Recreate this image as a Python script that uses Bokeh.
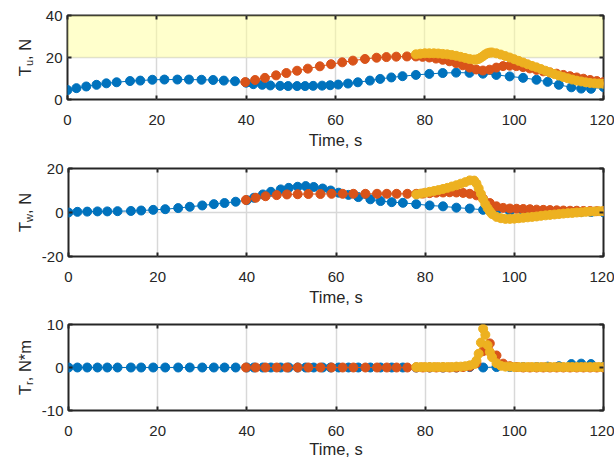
import math
from bokeh.plotting import figure
from bokeh.models import Range1d, LinearAxis, FixedTicker, BoxAnnotation
from bokeh.core.properties import value
from bokeh.layouts import column, row
from bokeh.embed import file_html
from bokeh.resources import INLINE

# ---------------- data ----------------
x_ticks = [0, 20, 40, 60, 80, 100, 120]
y_ticks_u = [0, 20, 40]
y_ticks_w = [-20, 0, 20]
y_ticks_r = [-10, 0, 10]
x_label = "Time, s"

t_blue = [0, 2, 4.2, 6.5, 8.7, 11, 14, 16.3, 19, 21.7, 24.6, 27.2, 30, 32.6, 35, 37.5,
          40, 41.6, 43.6, 45.4, 47.6, 49.4, 51.4, 53.2, 55, 57, 58.8, 60.6, 62.8, 65,
          67.7, 70, 72.5, 75, 78, 81, 84, 87, 90, 93, 96, 99, 102, 105, 107.5, 110,
          112.8, 115, 117.2, 120]
tu_blue = [4.5, 5.4, 6.2, 7.0, 7.7, 8.2, 8.8, 9.0, 9.4, 9.5, 9.5, 9.5, 9.4, 9.3, 9.0, 8.7,
           8.0, 7.3, 7.0, 6.7, 6.5, 6.4, 6.4, 6.4, 6.5, 6.6, 6.8, 7.1, 7.6, 8.2,
           9.0, 9.8, 10.5, 11.1, 11.7, 12.2, 12.6, 12.8, 12.7, 12.3, 11.7, 11.0, 10.3, 9.4, 8.4, 7.0,
           5.8, 5.2, 5.1, 5.9]
tw_blue = [0.0, 0.3, 0.4, 0.5, 0.5, 0.6, 0.7, 0.9, 1.2, 1.5, 2.0, 2.6, 3.2, 3.8, 4.3, 4.9,
           5.6, 6.7, 8.2, 9.4, 10.5, 11.2, 11.7, 12.0, 11.6, 10.9, 10.0, 9.0, 8.0, 7.0,
           6.0, 5.2, 4.7, 4.4, 3.8, 3.2, 2.8, 2.2, 1.8, 1.2, 0.8, 0.6, 0.5, 0.4, 0.4, 0.3,
           0.3, 0.2, 0.2, 0.1]
tr_blue = [0.0, 0.0, 0.0, 0.0, 0.0, 0.0, 0.0, 0.0, 0.0, 0.0, 0.0, 0.0, 0.0, 0.0, 0.0, 0.0,
           0.0, 0.0, 0.0, 0.0, 0.0, 0.0, 0.0, 0.0, 0.0, 0.0, 0.0, 0.0, 0.0, 0.0,
           0.0, 0.0, 0.0, 0.0, 0.0, 0.0, 0.0, 0.0, 0.1, 0.0, 0.1, 0.1, 0.1, 0.1, 0.2, 0.3,
           0.8, 0.9, 0.8, 0.2]

t_orange = [39.8, 42, 44.2, 46.7, 49, 51.4, 53.8, 56.5, 59, 61.5, 63.9, 66.6, 69.2, 71.4, 73.6, 76, 78,
            79.5, 81, 82.5, 84, 85.5, 87, 88.5, 90, 91.5, 93, 94.5, 96, 97.5, 99, 100.5, 102,
            103.5, 105, 106.5, 108, 109.5, 111, 112.5, 114, 115.5, 117, 118.5, 120]
tu_orange = [8.3, 9.3, 10.3, 11.5, 12.6, 13.7, 14.7, 15.8, 16.8, 17.7, 18.5, 19.3, 19.9, 20.2, 20.4, 20.5, 20.5,
             20.3, 20.0, 19.5, 18.9, 18.2, 17.3, 16.3, 15.2, 14.3, 13.8, 14.2, 15.2, 15.9, 16.1, 15.9, 15.4,
             14.8, 14.1, 13.4, 12.9, 12.3, 11.7, 11.1, 10.5, 9.9, 9.3, 8.8, 8.3]
tw_orange = [5.7, 6.7, 7.4, 7.9, 8.2, 8.3, 8.4, 8.4, 8.5, 8.5, 8.5, 8.5, 8.5, 8.5, 8.5, 8.5, 8.5,
             8.6, 8.8, 9.0, 9.1, 9.2, 9.1, 8.9, 8.5, 7.8, 6.3, 4.3, 2.8, 2.1, 1.8, 1.7, 1.6,
             1.5, 1.3, 1.2, 1.1, 1.0, 0.9, 0.8, 0.8, 0.7, 0.7, 0.6, 0.6]
tr_orange = [0.0, 0.0, 0.0, 0.0, 0.0, 0.0, 0.0, 0.0, 0.0, 0.0, 0.0, 0.0, 0.0, 0.0, 0.0, 0.0, 0.0,
             0.0, 0.0, 0.0, 0.0, 0.0, 0.0, 0.1, 0.2, 1.0, 3.8, 5.6, 2.8, 0.9, 0.3, 0.1, 0.0,
             0.0, 0.0, 0.0, 0.0, 0.0, 0.0, 0.0, 0.0, 0.0, 0.0, 0.0, 0.0]

t_yellow = [78, 79, 80, 81, 82, 83, 84, 85, 86, 87, 88, 89, 90, 91,
            91.5, 92, 92.5, 93, 93.5, 94, 94.5, 95,
            96, 97, 98, 99, 100, 101, 102, 103, 104, 105, 106, 107, 108, 109, 110,
            111, 112, 113, 114, 115, 116, 117, 118, 119, 120]
tu_yellow = [21.5, 21.8, 22.0, 22.0, 22.0, 21.9, 21.7, 21.5, 21.2, 20.8, 20.3, 19.8, 19.3, 19.0,
             19.0, 19.3, 19.9, 20.6, 21.4, 22.0, 22.3, 22.4,
             22.0, 21.4, 20.7, 20.0, 19.2, 18.4, 17.6, 16.8, 16.0, 15.3, 14.5, 13.7, 12.9, 12.1, 11.4,
             10.7, 10.1, 9.5, 9.0, 8.6, 8.2, 7.9, 7.7, 7.6, 7.5]
tw_yellow = [8.2, 8.6, 9.0, 9.4, 9.8, 10.2, 10.7, 11.2, 11.8, 12.4, 13.1, 13.8, 14.6, 14.5,
             13.2, 11.0, 8.5, 6.0, 3.8, 2.0, 0.5, -0.7,
             -2.0, -2.6, -2.9, -2.9, -2.8, -2.6, -2.4, -2.2, -2.0, -1.8, -1.5, -1.3, -1.1, -0.9, -0.7,
             -0.5, -0.3, -0.2, 0.0, 0.1, 0.3, 0.4, 0.5, 0.6, 0.7]
tr_yellow = [0.1, 0.1, 0.1, 0.1, 0.1, 0.1, 0.1, 0.1, 0.1, 0.2, 0.2, 0.3, 0.5, 0.8,
             1.6, 3.2, 5.8, 9.0, 7.6, 5.2, 3.6, 2.4,
             1.0, 0.4, 0.2, 0.2, 0.1, 0.1, 0.1, 0.1, 0.1, 0.1, 0.1, 0.1, 0.1, 0.1, 0.1,
             0.1, 0.1, 0.1, 0.1, 0.1, 0.1, 0.1, 0.1, 0.1, 0.1]

# ---------------- style ----------------
BLUE = "#0072BD"
ORANGE = "#D95319"
YELLOW = "#EDB120"
FONT = "Liberation Sans"
TXT = "#262626"
GRID = "#d8d8d8"
TICK_FS = "15px"
LAB_FS = "16.5px"
LABEL_W = 38
PANEL_W = 576

EM = {"T": 0.611, "u": 0.556, "w": 0.722, "r": 0.333, ",": 0.278, " ": 0.278,
      "N": 0.722, "*": 0.389, "m": 0.833}


def text_w(s, fs):
    return sum(EM.get(c, 0.556) for c in s) * fs


def style_axis(ax, ticks, show_labels=True):
    ax.ticker = FixedTicker(ticks=ticks)
    ax.axis_line_color = None
    ax.major_tick_in = 4
    ax.major_tick_out = 0
    ax.major_tick_line_color = TXT
    ax.major_tick_line_width = 2
    ax.minor_tick_line_color = None
    if show_labels:
        ax.major_label_text_font = FONT
        ax.major_label_text_font_size = TICK_FS
        ax.major_label_text_color = TXT
        ax.major_label_overrides = {t: ("-%d" % -t if t < 0 else "%d" % t) for t in ticks}
    else:
        ax.major_label_overrides = {t: "" for t in ticks}
        ax.major_label_text_font_size = "0px"
        ax.major_label_standoff = 0


def make_label(height, b_top, frame_h, b_bottom, sub, rest):
    # frame of this narrow figure is aligned with the neighbouring panel frame
    lf = figure(width=LABEL_W, height=height, x_range=Range1d(0, LABEL_W), y_range=Range1d(0, frame_h),
                output_backend="svg", toolbar_location=None, title=None,
                x_axis_location=None, y_axis_location=None,
                min_border_left=0, min_border_right=0, min_border_top=b_top, min_border_bottom=b_bottom)
    lf.outline_line_color = None
    lf.xgrid.visible = False
    lf.ygrid.visible = False
    F = 16.5
    S = 11.0
    total = text_w("T", F) + text_w(sub, S) + text_w(rest, F)
    y0 = frame_h / 2.0 - total / 2.0
    y1 = y0 + text_w("T", F)
    y2 = y1 + text_w(sub, S)
    common = dict(angle=math.pi / 2, text_font=value(FONT), text_color=TXT,
                  text_baseline="alphabetic", text_align="left")
    lf.text(x=[24], y=[y0], text=["T"], text_font_size=value("%gpx" % F), **common)
    lf.text(x=[28], y=[y1], text=[sub], text_font_size=value("%gpx" % S), **common)
    lf.text(x=[24], y=[y2], text=[rest], text_font_size=value("%gpx" % F), **common)
    return lf


def make_panel(height, b_top, frame_h, b_bottom, yr, yticks, series, band=None, label_standoff=3):
    p = figure(width=PANEL_W, height=height, x_range=Range1d(0, 120), y_range=Range1d(*yr),
               output_backend="svg", toolbar_location=None, title=None,
               min_border_left=67 - LABEL_W, min_border_right=11,
               min_border_top=b_top, min_border_bottom=b_bottom)
    p.outline_line_color = TXT
    p.outline_line_width = 2

    style_axis(p.xaxis[0], x_ticks)
    p.xaxis[0].major_label_standoff = 15
    p.xaxis[0].axis_label = x_label
    p.xaxis[0].axis_label_text_font = FONT
    p.xaxis[0].axis_label_text_font_size = LAB_FS
    p.xaxis[0].axis_label_text_font_style = "normal"
    p.xaxis[0].axis_label_text_color = TXT
    p.xaxis[0].axis_label_standoff = label_standoff

    style_axis(p.yaxis[0], yticks)
    p.yaxis[0].major_label_standoff = 5

    top_ax = LinearAxis()
    style_axis(top_ax, x_ticks, show_labels=False)
    p.add_layout(top_ax, "above")
    right_ax = LinearAxis()
    style_axis(right_ax, yticks, show_labels=False)
    p.add_layout(right_ax, "right")

    p.xgrid.ticker = FixedTicker(ticks=x_ticks)
    p.ygrid.ticker = FixedTicker(ticks=yticks)
    for g in (p.xgrid, p.ygrid):
        g.grid_line_color = GRID
        g.grid_line_width = 1.5

    if band is not None:
        p.add_layout(BoxAnnotation(bottom=band[0], top=band[1], fill_color="#FFFF99",
                                   fill_alpha=0.5, line_color=None, level="underlay"))

    for t, v, c in series:
        p.line(t, v, line_color=c, line_width=1)
        p.scatter(t, v, marker="circle", size=9, fill_color=c, line_color=c)
    return p


p1 = make_panel(153, 15, 84, 54, (0, 40), y_ticks_u,
                [(t_blue, tu_blue, BLUE), (t_orange, tu_orange, ORANGE), (t_yellow, tu_yellow, YELLOW)],
                band=(20, 40))
l1 = make_label(153, 15, 84, 54, "u", ", N")
p2 = make_panel(157, 15, 88, 54, (-20, 20), y_ticks_w,
                [(t_blue, tw_blue, BLUE), (t_orange, tw_orange, ORANGE), (t_yellow, tw_yellow, YELLOW)])
l2 = make_label(157, 15, 88, 54, "w", ", N")
p3 = make_panel(152, 14, 86, 52, (-10, 10), y_ticks_r,
                [(t_blue, tr_blue, BLUE), (t_orange, tr_orange, ORANGE), (t_yellow, tr_yellow, YELLOW)],
                label_standoff=1)
l3 = make_label(152, 14, 86, 52, "r", ", N*m")

layout = column(row(l1, p1, spacing=0), row(l2, p2, spacing=0), row(l3, p3, spacing=0), spacing=0)
open("out.html", "w").write(file_html(layout, INLINE))
